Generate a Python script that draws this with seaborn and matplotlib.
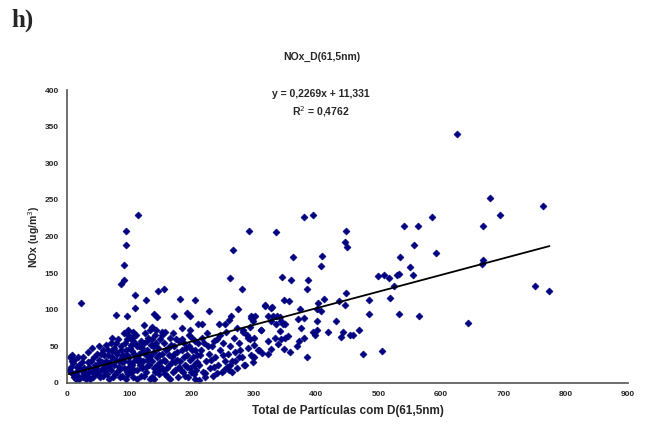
import matplotlib
matplotlib.use("Agg")
import matplotlib.pyplot as plt
import seaborn as sns
import numpy as np
import pandas as pd

# ---- data ----
outer_x = [625, 679, 763, 694, 668, 667, 665, 751, 774, 643,
           540, 563, 335, 448, 446, 449, 557, 592, 363, 409, 407, 535, 551, 555, 533, 530, 499, 508, 516,
           345, 360, 387, 385, 525, 448, 518, 485, 348, 356, 412, 437, 403, 446, 317, 327, 374, 401, 408,
           322, 331, 337, 341, 301, 295, 381, 371, 485, 533, 565, 299, 327, 343, 346, 349, 336, 432, 401,
           294, 311, 342, 375, 401, 468, 419, 395, 398, 443, 439, 454, 459, 300, 333, 344, 349, 355, 380,
           322, 373, 369, 339, 308, 313, 322, 328, 348, 357, 300, 385, 475, 505,
           114, 95, 95, 91, 91, 87, 22, 292, 267, 261, 281, 146, 155, 109, 127, 181, 205, 109, 79, 96,
           139, 144, 172, 192, 198, 228, 275, 263, 298, 124, 136, 143, 210, 217, 244, 253, 260, 283, 291,
           307, 299, 284, 276, 252, 222, 236, 212, 261, 394, 380, 586, 318, 329, 296, 152, 98, 104, 311, 270]
outer_y = [340, 252, 241, 229, 215, 168, 162, 132, 125, 82,
           215, 214, 206, 208, 192, 186, 188, 178, 172, 174, 160, 172, 158, 148, 149, 148, 146, 147, 144,
           145, 140, 141, 129, 132, 123, 116, 113, 113, 112, 115, 112, 109, 107, 105, 103, 101, 101, 98,
           92, 92, 92, 90, 92, 89, 89, 87, 94, 94, 91, 84, 84, 85, 81, 81, 80, 84, 84,
           76, 73, 71, 75, 73, 73, 69, 69, 66, 70, 63, 65, 66, 61, 61, 60, 61, 64, 61,
           57, 57, 51, 53, 45, 41, 39, 46, 46, 43, 36, 36, 39, 44,
           230, 208, 188, 161, 140, 135, 109, 208, 182, 143, 128, 126, 129, 120, 113, 115, 113, 102, 93, 92,
           94, 90, 91, 96, 91, 98, 101, 92, 90, 79, 77, 72, 80, 81, 81, 81, 86, 72, 61,
           45, 36, 25, 36, 18, 14, 22, 4, 25, 230, 227, 227, 106, 104, 91, 70, 66, 59, 72, 30]

cluster_x = [5, 8, 6, 10, 12, 15, 18, 20, 22, 25, 28, 8, 12, 6, 14, 16, 24, 27, 30, 10, 3, 20, 18, 26, 29,
             32, 35, 38, 40, 42, 45, 48, 50, 52, 55, 58, 34, 37, 44, 47, 53, 56, 59, 40, 33, 46, 51, 57, 43, 36, 49, 54, 60,
             62, 64, 66, 68, 70, 72, 74, 76, 78, 80, 82, 84, 86, 88, 90, 63, 67, 71, 75, 79, 83, 87, 89, 65, 69, 73, 77, 81, 85, 61, 66, 72, 78, 84, 88,
             92, 94, 96, 98, 100, 102, 104, 106, 108, 110, 112, 114, 116, 118, 120, 91, 93, 95, 97, 99, 101, 103, 105, 107, 109,
             111, 113, 115, 117, 119, 92, 96, 100, 104, 108, 112, 116, 120, 98, 106,
             122, 124, 126, 128, 130, 132, 134, 136, 138, 140, 142, 144, 146, 148, 150, 121, 123, 125, 127, 129, 131, 133,
             135, 137, 139, 141, 143, 145, 147, 149, 125, 133, 140, 146, 128, 137,
             152, 154, 156, 158, 160, 162, 164, 166, 168, 170, 172, 174, 176, 178, 180, 151, 153, 155, 157, 159, 161, 163,
             165, 167, 169, 171, 173, 175, 177, 179, 158, 170,
             182, 184, 186, 188, 190, 192, 194, 196, 198, 200, 202, 204, 206, 208, 210, 183, 185, 187, 189, 191, 193, 195,
             197, 199, 201, 203, 205, 207, 209, 185, 198, 205,
             212, 215, 218, 220, 223, 225, 228, 230, 233, 235, 238, 240, 243, 245, 248, 250, 253, 255, 258, 260,
             214, 217, 221, 226, 231, 236, 241, 246, 251, 256,
             262, 265, 268, 270, 273, 276, 280, 283, 286, 290, 293, 296, 300, 264, 272, 278, 288, 298]
cluster_y = [35, 30, 22, 12, 8, 15, 10, 25, 18, 8, 12, 38, 32, 15, 5, 22, 28, 20, 6, 27, 18, 5, 35, 36, 15,
             10, 22, 30, 15, 8, 25, 40, 12, 32, 18, 45, 42, 5, 35, 20, 8, 28, 38, 48, 28, 14, 50, 10, 18, 15, 26, 40, 22,
             30, 12, 45, 20, 55, 35, 8, 25, 42, 15, 60, 30, 50, 10, 38, 52, 5, 18, 48, 32, 22, 45, 28, 38, 28, 62, 12, 40, 8, 17, 23, 44, 55, 18, 35,
             20, 45, 60, 12, 35, 52, 25, 8, 40, 65, 18, 30, 50, 10, 42, 30, 55, 5, 38, 22, 48, 15, 62, 30, 55,
             35, 5, 40, 25, 58, 68, 15, 28, 44, 18, 50, 33, 20, 72, 70,
             30, 55, 15, 45, 62, 25, 38, 8, 50, 20, 66, 35, 48, 12, 28, 48, 10, 40, 22, 58, 35, 5,
             52, 30, 42, 15, 55, 25, 38, 60, 68, 72, 5, 18, 32, 60,
             40, 18, 55, 30, 10, 48, 25, 62, 35, 15, 50, 28, 42, 8, 58, 22, 65, 32, 12, 45, 20, 38,
             5, 52, 28, 40, 18, 60, 32, 22, 70, 68,
             30, 45, 15, 55, 25, 38, 8, 50, 20, 62, 35, 12, 45, 28, 55, 18, 60, 35, 10, 48, 22, 65,
             32, 15, 45, 25, 58, 18, 38, 75, 72, 5,
             25, 45, 15, 55, 30, 68, 40, 20, 50, 10, 35, 60, 25, 45, 15, 55, 30, 70, 40, 18,
             38, 62, 8, 50, 32, 58, 14, 65, 38, 22,
             50, 30, 62, 42, 20, 55, 35, 70, 25, 48, 60, 38, 52, 15, 75, 45, 65, 28]

slope = 0.2269
intercept = 11.331
eq_text = "y = 0,2269x + 11,331"
r2_text = "R$^2$ = 0,4762"
x_ticks = [0, 100, 200, 300, 400, 500, 600, 700, 800, 900]
y_ticks = [0, 50, 100, 150, 200, 250, 300, 350, 400]

df = pd.DataFrame({"x": outer_x + cluster_x, "y": outer_y + cluster_y})

sns.set_style("white")
plt.rcParams["font.family"] = ["Liberation Sans", "DejaVu Sans"]

fig = plt.figure(figsize=(6.58, 4.24), dpi=100)
ax = fig.add_axes([0.1018, 0.0967, 0.8526, 0.691])

sns.scatterplot(data=df, x="x", y="y", marker="D", s=13, color="#000080",
                edgecolor="#000080", linewidth=0.4, ax=ax, zorder=2)

xl = np.array([df["x"].min(), df["x"].max()])
sns.lineplot(x=xl, y=slope * xl + intercept, color="black", linewidth=1.3, ax=ax, zorder=3)

ax.set_xlim(0, 900)
ax.set_ylim(0, 400)
ax.set_xticks(x_ticks)
ax.set_yticks(y_ticks)
ax.set_xticklabels([str(t) for t in x_ticks], fontsize=6, fontweight="bold")
ax.set_yticklabels([str(t) for t in y_ticks], fontsize=6, fontweight="bold")
ax.tick_params(axis="both", direction="out", length=3, width=0.8, color="black", pad=3)
for s in ["top", "right"]:
    ax.spines[s].set_visible(False)
for s in ["left", "bottom"]:
    ax.spines[s].set_color("#555555")
    ax.spines[s].set_linewidth(1.2)

ax.set_xlabel("Total de Partículas com D(61,5nm)", fontsize=8.5, fontweight="bold", labelpad=5)
ax.set_ylabel("NOx (ug/m$^3$)", fontsize=7.5, fontweight="bold", labelpad=2)

fig.text(0.489, 0.865, "NOx_D(61,5nm)", ha="center", va="center", fontsize=7.5, fontweight="bold")
fig.text(0.018, 0.953, "h)", ha="left", va="center", fontsize=18, fontweight="bold",
         family=["Liberation Serif", "DejaVu Serif"])
ax.text(0.452, 0.985, eq_text, transform=ax.transAxes, ha="center", va="center", fontsize=7.5, fontweight="bold")
ax.text(0.452, 0.925, r2_text, transform=ax.transAxes, ha="center", va="center", fontsize=7.5, fontweight="bold")

fig.savefig("out.png", dpi=100)
